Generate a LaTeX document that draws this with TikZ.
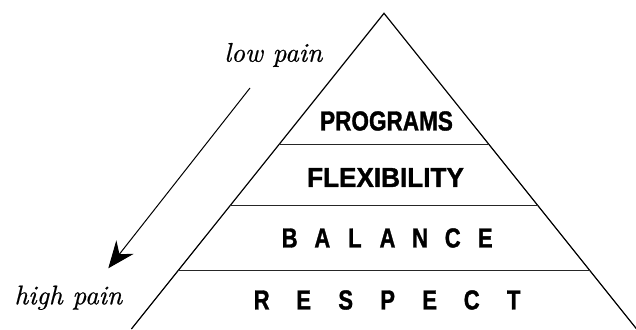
\documentclass[tikz,border=0pt]{standalone}
\usepackage{fontspec}
\newfontfamily\capfont[BoldFeatures={FakeBold=1.3}]{Liberation Sans}
\newfontfamily\painfont[ItalicFont=lmroman10-italic.otf,ItalicFeatures={FakeBold=0.6}]{lmroman10-regular.otf}
\usetikzlibrary{arrows.meta,calc}
\newcommand{\spacedletter}[2]{\makebox[#1]{\scalebox{0.8}[1]{#2}}}
\begin{document}
\begin{tikzpicture}[x=1pt,y=-1pt,
  side/.style={line width=1.2pt,black},
  tier/.style={line width=1pt,black!85},
  tiertext/.style={inner sep=0pt,font=\capfont\bfseries\fontsize{27.5}{27.5}\selectfont},
  pain/.style={inner sep=0pt,anchor=base,font=\painfont\itshape\fontsize{27}{27}\selectfont},
  flow/.style={line width=1pt,-{Stealth[length=27pt,width=22pt,inset=9pt]}}]
\useasboundingbox (0,0) rectangle (636,329);
\fill[white] (0,0) rectangle (636,329);
% triangle
\coordinate (apex) at (384,13.3);
\coordinate (bl) at (131.4,329);
\coordinate (br) at (636.6,329);
\draw[side,line join=miter] (bl) -- (apex) -- (br);
% tier lines
\coordinate (l1) at ($(apex)!0.4156!(bl)$);
\coordinate (r1) at ($(apex)!0.4156!(br)$);
\coordinate (l2) at ($(apex)!0.6089!(bl)$);
\coordinate (r2) at ($(apex)!0.6089!(br)$);
\coordinate (l3) at ($(apex)!0.8147!(bl)$);
\coordinate (r3) at ($(apex)!0.8147!(br)$);
\draw[tier] (l1) -- (r1);
\draw[tier] (l2) -- (r2);
\draw[tier] (l3) -- (r3);
% tier labels
\node[tiertext] (programs) at (386.5,121) {\scalebox{0.82}[1]{PROGRAMS}};
\node[tiertext] (flexibility) at (385.5,177.5) {\scalebox{0.95}[1]{FLEXIBILITY}};
\node[tiertext] (balance) at (387.5,238) {\spacedletter{32.6pt}{B}\spacedletter{32.6pt}{A}\spacedletter{32.6pt}{L}\spacedletter{32.6pt}{A}\spacedletter{32.6pt}{N}\spacedletter{32.6pt}{C}\spacedletter{32.6pt}{E}};
\node[tiertext] (respect) at (387.7,300) {\spacedletter{42pt}{R}\spacedletter{42pt}{E}\spacedletter{42pt}{S}\spacedletter{42pt}{P}\spacedletter{42pt}{E}\spacedletter{42pt}{C}\spacedletter{42pt}{T}};
% pain labels and arrow
\node[pain] (low) at (273.3,61.7) {low pain};
\node[pain] (high) at (68.3,304.3) {high pain};
\coordinate (arrstart) at (250,88);
\coordinate (arrtip) at (108.3,268.3);
\draw[flow] (arrstart) -- (arrtip);
\end{tikzpicture}
\end{document}
